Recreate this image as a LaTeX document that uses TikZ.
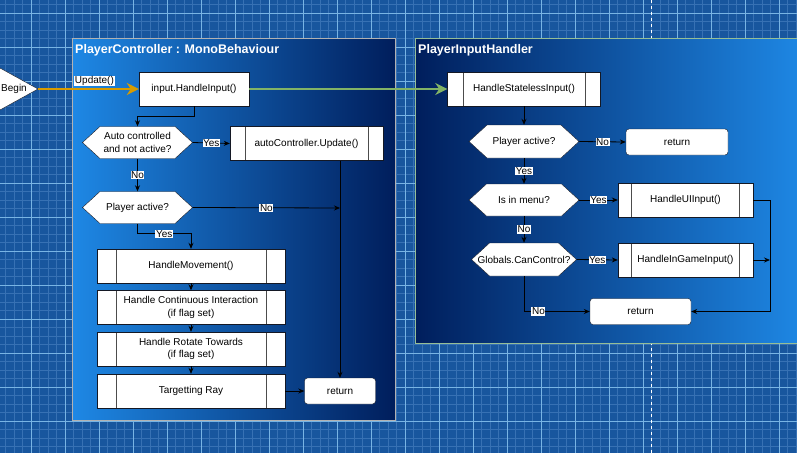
\documentclass[tikz,border=0pt]{standalone}
\usepackage{fontspec}
\setmainfont{Liberation Sans}
\usetikzlibrary{shapes.symbols, arrows.meta, positioning, calc}
\definecolor{gridbg}{RGB}{24,86,158}
\definecolor{gridminor}{RGB}{55,113,180}
\definecolor{gridmajor}{RGB}{120,180,228}
\definecolor{panelbright}{RGB}{30,136,229}
\definecolor{paneldark}{RGB}{0,30,92}
\definecolor{updateorange}{RGB}{215,155,0}
\definecolor{handlergreen}{RGB}{130,179,102}
\definecolor{boxline}{RGB}{20,24,36}
\tikzstyle{box} = [rectangle, draw=boxline, fill=white, minimum height=34, text centered, font=\fontsize{10}{12.5}\selectfont, align=center, inner sep=2pt]
\tikzstyle{process} = [box, path picture={
  \draw[black!70] ($(path picture bounding box.north west)!0.1!(path picture bounding box.north east)$) -- ($(path picture bounding box.south west)!0.1!(path picture bounding box.south east)$);
  \draw[black!70] ($(path picture bounding box.north west)!0.9!(path picture bounding box.north east)$) -- ($(path picture bounding box.south west)!0.9!(path picture bounding box.south east)$);}]
\tikzstyle{decision} = [signal, signal to=east and west, signal pointer angle=85, draw=boxline, fill=white, minimum width=110, minimum height=32, font=\fontsize{10}{12.5}\selectfont, align=center, inner sep=1pt]
\tikzstyle{retbox} = [box, rounded corners=3pt, minimum height=26]
\tikzstyle{arrow} = [line width=0.8pt, ->, >={Stealth[length=6pt,width=5pt]}, draw=black]
\tikzstyle{bigarrow} = [line width=2.5pt, -{Stealth[length=12pt,width=12pt]}]
\tikzstyle{lbl} = [fill=white, inner sep=0.6pt, font=\fontsize{10}{11}\selectfont]
\tikzstyle{paneltitle} = [anchor=west, text=white, font=\fontsize{12.5}{14}\selectfont\bfseries, inner sep=0pt]
\tikzstyle{minorgrid} = [gridminor, line width=0.5pt]
\tikzstyle{majorgrid} = [gridmajor, line width=0.7pt]

\begin{document}
\begin{tikzpicture}[x=1pt, y=-1pt]
\useasboundingbox (0,0) rectangle (797,453);

% Background (grid)
\fill[gridbg] (0,0) rectangle (797,453);
\foreach \k in {0,...,93} \draw[minorgrid] ({5.5+8.5*\k},0) -- ++(0,453);
\foreach \k in {0,...,53} \draw[minorgrid] (0,{4.5+8.5*\k}) -- ++(797,0);
\foreach \k in {0,...,22} \draw[majorgrid] ({31+34*\k},0) -- ++(0,453);
\foreach \k in {0,...,13} \draw[majorgrid] (0,{13+34*\k}) -- ++(797,0);
\draw[white, dashed, line width=0.7pt] (651,0) -- (651,453);

% Panels
\shade[left color=panelbright, right color=paneldark, draw=gray!60] (72,38) rectangle (395,420);
\shade[left color=paneldark, right color=panelbright, draw={rgb,255:red,150;green,190;blue,150}] (415,38) rectangle (805,343);
\node[paneltitle] (ctrltitle) at (75,50) {PlayerController : MonoBehaviour};
\node[paneltitle] (handlertitle) at (418,50) {PlayerInputHandler};

% Start
\draw[draw=boxline, fill=white] (-10,62.5) -- (38,89) -- (-10,115.5) -- cycle;
\node[font=\fontsize{10}{12}\selectfont] (begin) at (14,89) {Begin};
\coordinate (begintip) at (38,89);

% Nodes (PlayerController)
\node[box, minimum width=110] (handleinput) at (194,89) {input.HandleInput()};
\node[decision] (autocheck) at (137.5,142.5) {Auto controlled\\and not active?};
\node[process, minimum width=153] (autoupdate) at (306.5,143.5) {autoController.Update()};
\node[decision] (activecheck) at (137.5,207.5) {Player active?};
\node[process, minimum width=188] (movement) at (191,266) {HandleMovement()};
\node[process, minimum width=188] (interact) at (191,307.5) {Handle Continuous Interaction\\(if flag set)};
\node[process, minimum width=188] (rotate) at (191,349) {Handle Rotate Towards\\(if flag set)};
\node[process, minimum width=188] (targetray) at (191,391) {Targetting Ray};
\node[retbox, minimum width=71] (ctrlreturn) at (340,391) {return};
\coordinate (ctrlrail) at (340,208);

% Nodes (PlayerInputHandler)
\node[process, minimum width=153] (statelessinput) at (524,89) {HandleStatelessInput()};
\node[decision, minimum height=33] (activecheck2) at (524,141.5) {Player active?};
\node[retbox, minimum width=102] (inactivereturn) at (677,142) {return};
\node[decision] (menucheck) at (524,200) {Is in menu?};
\node[process, minimum width=135] (uiinput) at (685.5,200) {HandleUIInput()};
\node[decision, minimum width=105, minimum height=33] (controlcheck) at (524,259.5) {\makebox[0pt]{Globals.CanControl?}};
\node[process, minimum width=135] (gameinput) at (685.5,260) {HandleInGameInput()};
\node[retbox, minimum width=101] (handlerreturn) at (640.5,311.5) {return};
\coordinate (handlerrail) at (770,260);

% Arrows (PlayerController)
\draw[bigarrow, updateorange] (begintip) -- node[lbl, text=black, pos=0.56, above=1.5pt] {Update()} (handleinput.west);
\draw[arrow] (handleinput.south) -- ++(0,10) -| (autocheck.north);
\draw[arrow] (autocheck.east) -- node[lbl] {Yes} (autoupdate.west);
\draw[arrow] (autocheck.south) -- node[lbl] {No} (activecheck.north);
\draw[arrow] (activecheck.east) -- node[lbl] {No} (ctrlrail);
\draw[arrow] (autoupdate.south -| ctrlrail) -- (ctrlreturn.north);
\draw[arrow] (activecheck.south) -- ++(0,10) -| node[lbl, pos=0.25] {Yes} (movement.north);
\draw[arrow] (movement) -- (interact);
\draw[arrow] (interact) -- (rotate);
\draw[arrow] (rotate) -- (targetray);
\draw[arrow] (targetray) -- (ctrlreturn);

% Arrows (PlayerInputHandler)
\draw[bigarrow, handlergreen] (handleinput.east) -- (statelessinput.west);
\draw[arrow] (statelessinput.south) -- (activecheck2.north);
\draw[arrow] (activecheck2.east) -- node[lbl] {No} (inactivereturn.west);
\draw[arrow] (activecheck2.south) -- node[lbl] {Yes} (menucheck.north);
\draw[arrow] (menucheck.east) -- node[lbl] {Yes} (uiinput.west);
\draw[arrow] (menucheck.south) -- node[lbl] {No} (controlcheck.north);
\draw[arrow] (controlcheck.east) -- node[lbl] {Yes} (gameinput.west);
\draw[arrow] (gameinput.east) -- (handlerrail);
\draw[arrow] (uiinput.east) -| (handlerrail) |- (handlerreturn.east);
\draw[arrow] (controlcheck.south) |- node[lbl, pos=0.61] {No} (handlerreturn.west);

\end{tikzpicture}
\end{document}
